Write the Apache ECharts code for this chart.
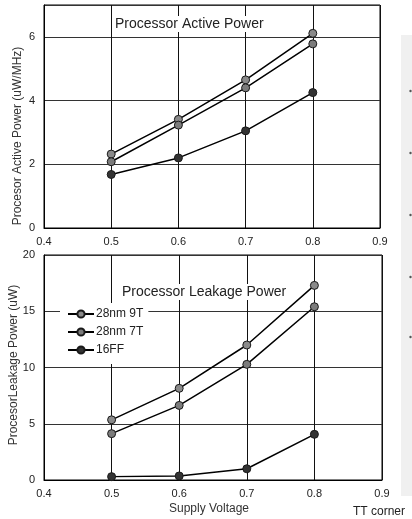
<!DOCTYPE html>
<html>
<head>
<meta charset="utf-8">
<script src="https://cdn.jsdelivr.net/npm/echarts@6/dist/echarts.min.js"></script>
<style>
html,body{margin:0;padding:0;background:#fff;}
#c{width:412px;height:519px;}
</style>
</head>
<body>
<div id="c"></div>
<script>
var voltages = [0.5, 0.6, 0.7, 0.8];
var seriesNames = ['28nm 9T', '28nm 7T', '16FF'];
var active9T = [2.32, 3.41, 4.65, 6.11];
var active7T = [2.08, 3.23, 4.40, 5.78];
var active16FF = [1.68, 2.20, 3.05, 4.25];
var leak9T = [5.35, 8.15, 12.0, 17.3];
var leak7T = [4.12, 6.63, 10.28, 15.4];
var leak16FF = [0.30, 0.36, 1.00, 4.06];
var markerColors = ['#8a8a8a', '#7c7c7c', '#333333'];

var FONT = '"Liberation Sans", Arial, sans-serif';
function pairs(vals){ return voltages.map(function(v,i){ return [v, vals[i]]; }); }

function mkSeries(name, vals, idx, axis){
  return {
    name: name, type: 'line', xAxisIndex: axis, yAxisIndex: axis,
    data: pairs(vals), symbol: 'circle', symbolSize: 8,
    lineStyle: {color: '#000', width: 1.5},
    itemStyle: {color: markerColors[idx], borderColor: '#1a1a1a', borderWidth: 1},
    emphasis: {disabled: true}, animation: false
  };
}

function xAx(idx){
  return {
    type: 'value', gridIndex: idx, min: 0.4, max: 0.9, interval: 0.1,
    axisLine: {show: true, lineStyle: {color: '#000'}},
    axisTick: {show: false},
    axisLabel: {color: '#222', fontSize: 11, fontFamily: FONT, margin: 8,
      formatter: function(v){ return v.toFixed(1); }},
    splitLine: {show: true, lineStyle: {color: '#111', width: 1}}
  };
}
function yAx(idx, max, interval){
  return {
    type: 'value', gridIndex: idx, min: 0, max: max, interval: interval,
    axisLine: {show: true, lineStyle: {color: '#000'}},
    axisTick: {show: false},
    axisLabel: {color: '#222', fontSize: 11, fontFamily: FONT, margin: 9, showMaxLabel: idx === 1,
      formatter: function(v){ return (v === 7) ? '' : String(v); }},
    splitLine: {show: true, lineStyle: {color: '#333', width: 1}}
  };
}

var chart = echarts.init(document.getElementById('c'), null, {renderer: 'canvas'});
chart.setOption({
  animation: false,
  backgroundColor: '#fff',
  textStyle: {fontFamily: FONT},
  grid: [
    {left: 44, top: 5, width: 336, height: 223, show: true, borderColor: '#000', borderWidth: 1},
    {left: 44, top: 255, width: 338, height: 225, show: true, borderColor: '#000', borderWidth: 1}
  ],
  xAxis: [xAx(0), xAx(1)],
  yAxis: [yAx(0, 7, 2), yAx(1, 20, 5)],
  title: [
    {text: 'Processor Active Power', left: 113, top: 16,
      padding: [1, 2, 1, 2],
      backgroundColor: '#fff',
      textStyle: {fontSize: 14, fontWeight: 'normal', color: '#222', fontFamily: FONT}},
    {text: 'Processor Leakage Power', left: 120, top: 284,
      padding: [1, 2, 1, 2],
      backgroundColor: '#fff',
      textStyle: {fontSize: 14, fontWeight: 'normal', color: '#222', fontFamily: FONT}}
  ],
  legend: {
    data: seriesNames, orient: 'vertical', left: 60, top: 303,
    padding: [5, 5, 8, 7], itemGap: 6, itemWidth: 26, itemHeight: 9,
    backgroundColor: '#fff', selectedMode: false,
    textStyle: {fontSize: 12, color: '#222', fontFamily: FONT, padding: [0, 0, 0, -3]}
  },
  series: [
    mkSeries(seriesNames[0], active9T, 0, 0),
    mkSeries(seriesNames[1], active7T, 1, 0),
    mkSeries(seriesNames[2], active16FF, 2, 0),
    mkSeries(seriesNames[0], leak9T, 0, 1),
    mkSeries(seriesNames[1], leak7T, 1, 1),
    mkSeries(seriesNames[2], leak16FF, 2, 1)
  ],
  graphic: [
    {type: 'text', x: 18, y: 136, rotation: Math.PI / 2, silent: true,
      style: {text: 'Procesor Active Power (uW/MHz)', fontSize: 12, fontFamily: FONT, fill: '#333',
        align: 'center', verticalAlign: 'middle'}},
    {type: 'text', x: 14, y: 365, rotation: Math.PI / 2, silent: true,
      style: {text: 'ProcesorLeakage Power (uW)', fontSize: 12, fontFamily: FONT, fill: '#333',
        align: 'center', verticalAlign: 'middle'}},
    {type: 'text', x: 209, y: 509, silent: true,
      style: {text: 'Supply Voltage', fontSize: 12, fontFamily: FONT, fill: '#333',
        align: 'center', verticalAlign: 'middle'}},
    {type: 'rect', shape: {x: 401, y: 35, width: 12, height: 461}, silent: true, z: -1,
      style: {fill: '#f0f0f0'}},
    {type: 'text', x: 353, y: 512, silent: true,
      style: {text: 'TT corner', fontSize: 12, fontFamily: FONT, fill: '#222',
        align: 'left', verticalAlign: 'middle'}},
    {type: 'circle', shape: {cx: 410.5, cy: 91, r: 1.2}, silent: true, style: {fill: '#555'}},
    {type: 'circle', shape: {cx: 410.5, cy: 153, r: 1.2}, silent: true, style: {fill: '#555'}},
    {type: 'circle', shape: {cx: 410.5, cy: 215, r: 1.2}, silent: true, style: {fill: '#555'}},
    {type: 'circle', shape: {cx: 410.5, cy: 277, r: 1.2}, silent: true, style: {fill: '#555'}},
    {type: 'circle', shape: {cx: 410.5, cy: 337, r: 1.2}, silent: true, style: {fill: '#555'}}
  ]
});
</script>
</body>
</html>
